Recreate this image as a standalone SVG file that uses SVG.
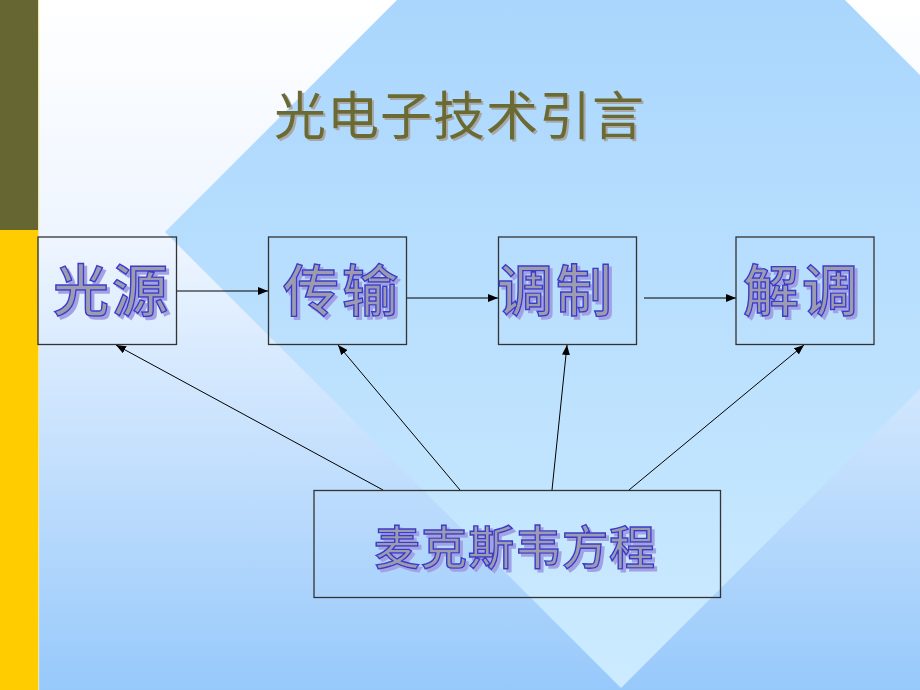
<svg xmlns="http://www.w3.org/2000/svg" width="920" height="690" viewBox="0 0 920 690">
<defs>
<linearGradient id="bg" x1="0" y1="0" x2="0" y2="690" gradientUnits="userSpaceOnUse">
<stop offset="0" stop-color="#FFFFFF"/>
<stop offset="0.35" stop-color="#EEF5FF"/>
<stop offset="1" stop-color="#97C9FB"/>
</linearGradient>
<linearGradient id="dia" x1="0" y1="0" x2="0" y2="690" gradientUnits="userSpaceOnUse">
<stop offset="0" stop-color="#AAD6FD"/>
<stop offset="1" stop-color="#CCEBFF"/>
</linearGradient>
<filter id="nodeShadow" x="-10%" y="-10%" width="130%" height="140%">
<feOffset in="SourceAlpha" dx="3" dy="3" result="o"/>
<feFlood flood-color="#A2A2E2"/>
<feComposite in2="o" operator="in" result="s"/>
<feMerge><feMergeNode in="s"/><feMergeNode in="SourceGraphic"/></feMerge>
</filter>
<filter id="titleShadow" x="-5%" y="-10%" width="115%" height="140%">
<feOffset in="SourceAlpha" dx="2" dy="2" result="o"/>
<feFlood flood-color="#A8A8A8"/>
<feComposite in2="o" operator="in" result="s"/>
<feMerge><feMergeNode in="s"/><feMergeNode in="SourceGraphic"/></feMerge>
</filter>
<marker id="arr" markerWidth="10" markerHeight="8" refX="10" refY="4" orient="auto" markerUnits="userSpaceOnUse">
<path d="M0,0 L10,4 L0,8 z" fill="#000"/>
</marker>
</defs>
<style>
.box{fill:none;stroke:#333333;stroke-width:1.3}
.lbl{font-family:"Noto Sans CJK SC","Noto Sans CJK JP",sans-serif;font-weight:500;fill:#9C9CAE;stroke:#3A3ACC;stroke-width:1.4;filter:url(#nodeShadow)}
.big{font-size:56px;letter-spacing:3px}
.mid{font-size:46px;letter-spacing:1px}
.title{font-family:"Noto Sans CJK SC","Noto Sans CJK JP",sans-serif;font-size:52px;letter-spacing:1px;fill:#6B6B33;filter:url(#titleShadow)}
.conn{stroke:#000;stroke-width:1;fill:none;marker-end:url(#arr)}
</style>
<rect x="0" y="0" width="920" height="690" fill="url(#bg)"/>
<polygon points="621,-224 1077,232 621,688 165,232" fill="url(#dia)"/>
<rect x="0" y="0" width="38" height="230" fill="#666633"/>
<rect x="0" y="230" width="38" height="460" fill="#FFCC00"/>
<rect x="38" y="0" width="1.2" height="690" fill="#F2E6A8"/>
<text class="title" x="274" y="135">光电子技术引言</text>
<g id="connectors">
<line class="conn" x1="176" y1="291" x2="268" y2="291"/>
<line class="conn" x1="407" y1="298" x2="498" y2="298"/>
<line class="conn" x1="644" y1="298" x2="736" y2="298"/>
<line class="conn" x1="383" y1="490" x2="116" y2="345"/>
<line class="conn" x1="460" y1="490" x2="338" y2="345"/>
<line class="conn" x1="552" y1="490" x2="567" y2="345"/>
<line class="conn" x1="629" y1="490" x2="804" y2="345"/>
</g>
<g id="node-guangyuan">
<rect class="box" x="38" y="237" width="138.5" height="107.5"/>
<text class="lbl big" x="53" y="311">光源</text>
</g>
<g id="node-chuanshu">
<rect class="box" x="268.5" y="237" width="138" height="107.5"/>
<text class="lbl big" x="283" y="311">传输</text>
</g>
<g id="node-tiaozhi">
<rect class="box" x="498.5" y="237" width="138" height="107.5"/>
<text class="lbl big" x="497" y="311">调制</text>
</g>
<g id="node-jietiao">
<rect class="box" x="736" y="237" width="138" height="107.5"/>
<text class="lbl big" x="743" y="311">解调</text>
</g>
<g id="node-maxwell">
<rect class="box" x="314" y="490.5" width="406.5" height="107"/>
<text class="lbl mid" x="374" y="564">麦克斯韦方程</text>
</g>
</svg>
